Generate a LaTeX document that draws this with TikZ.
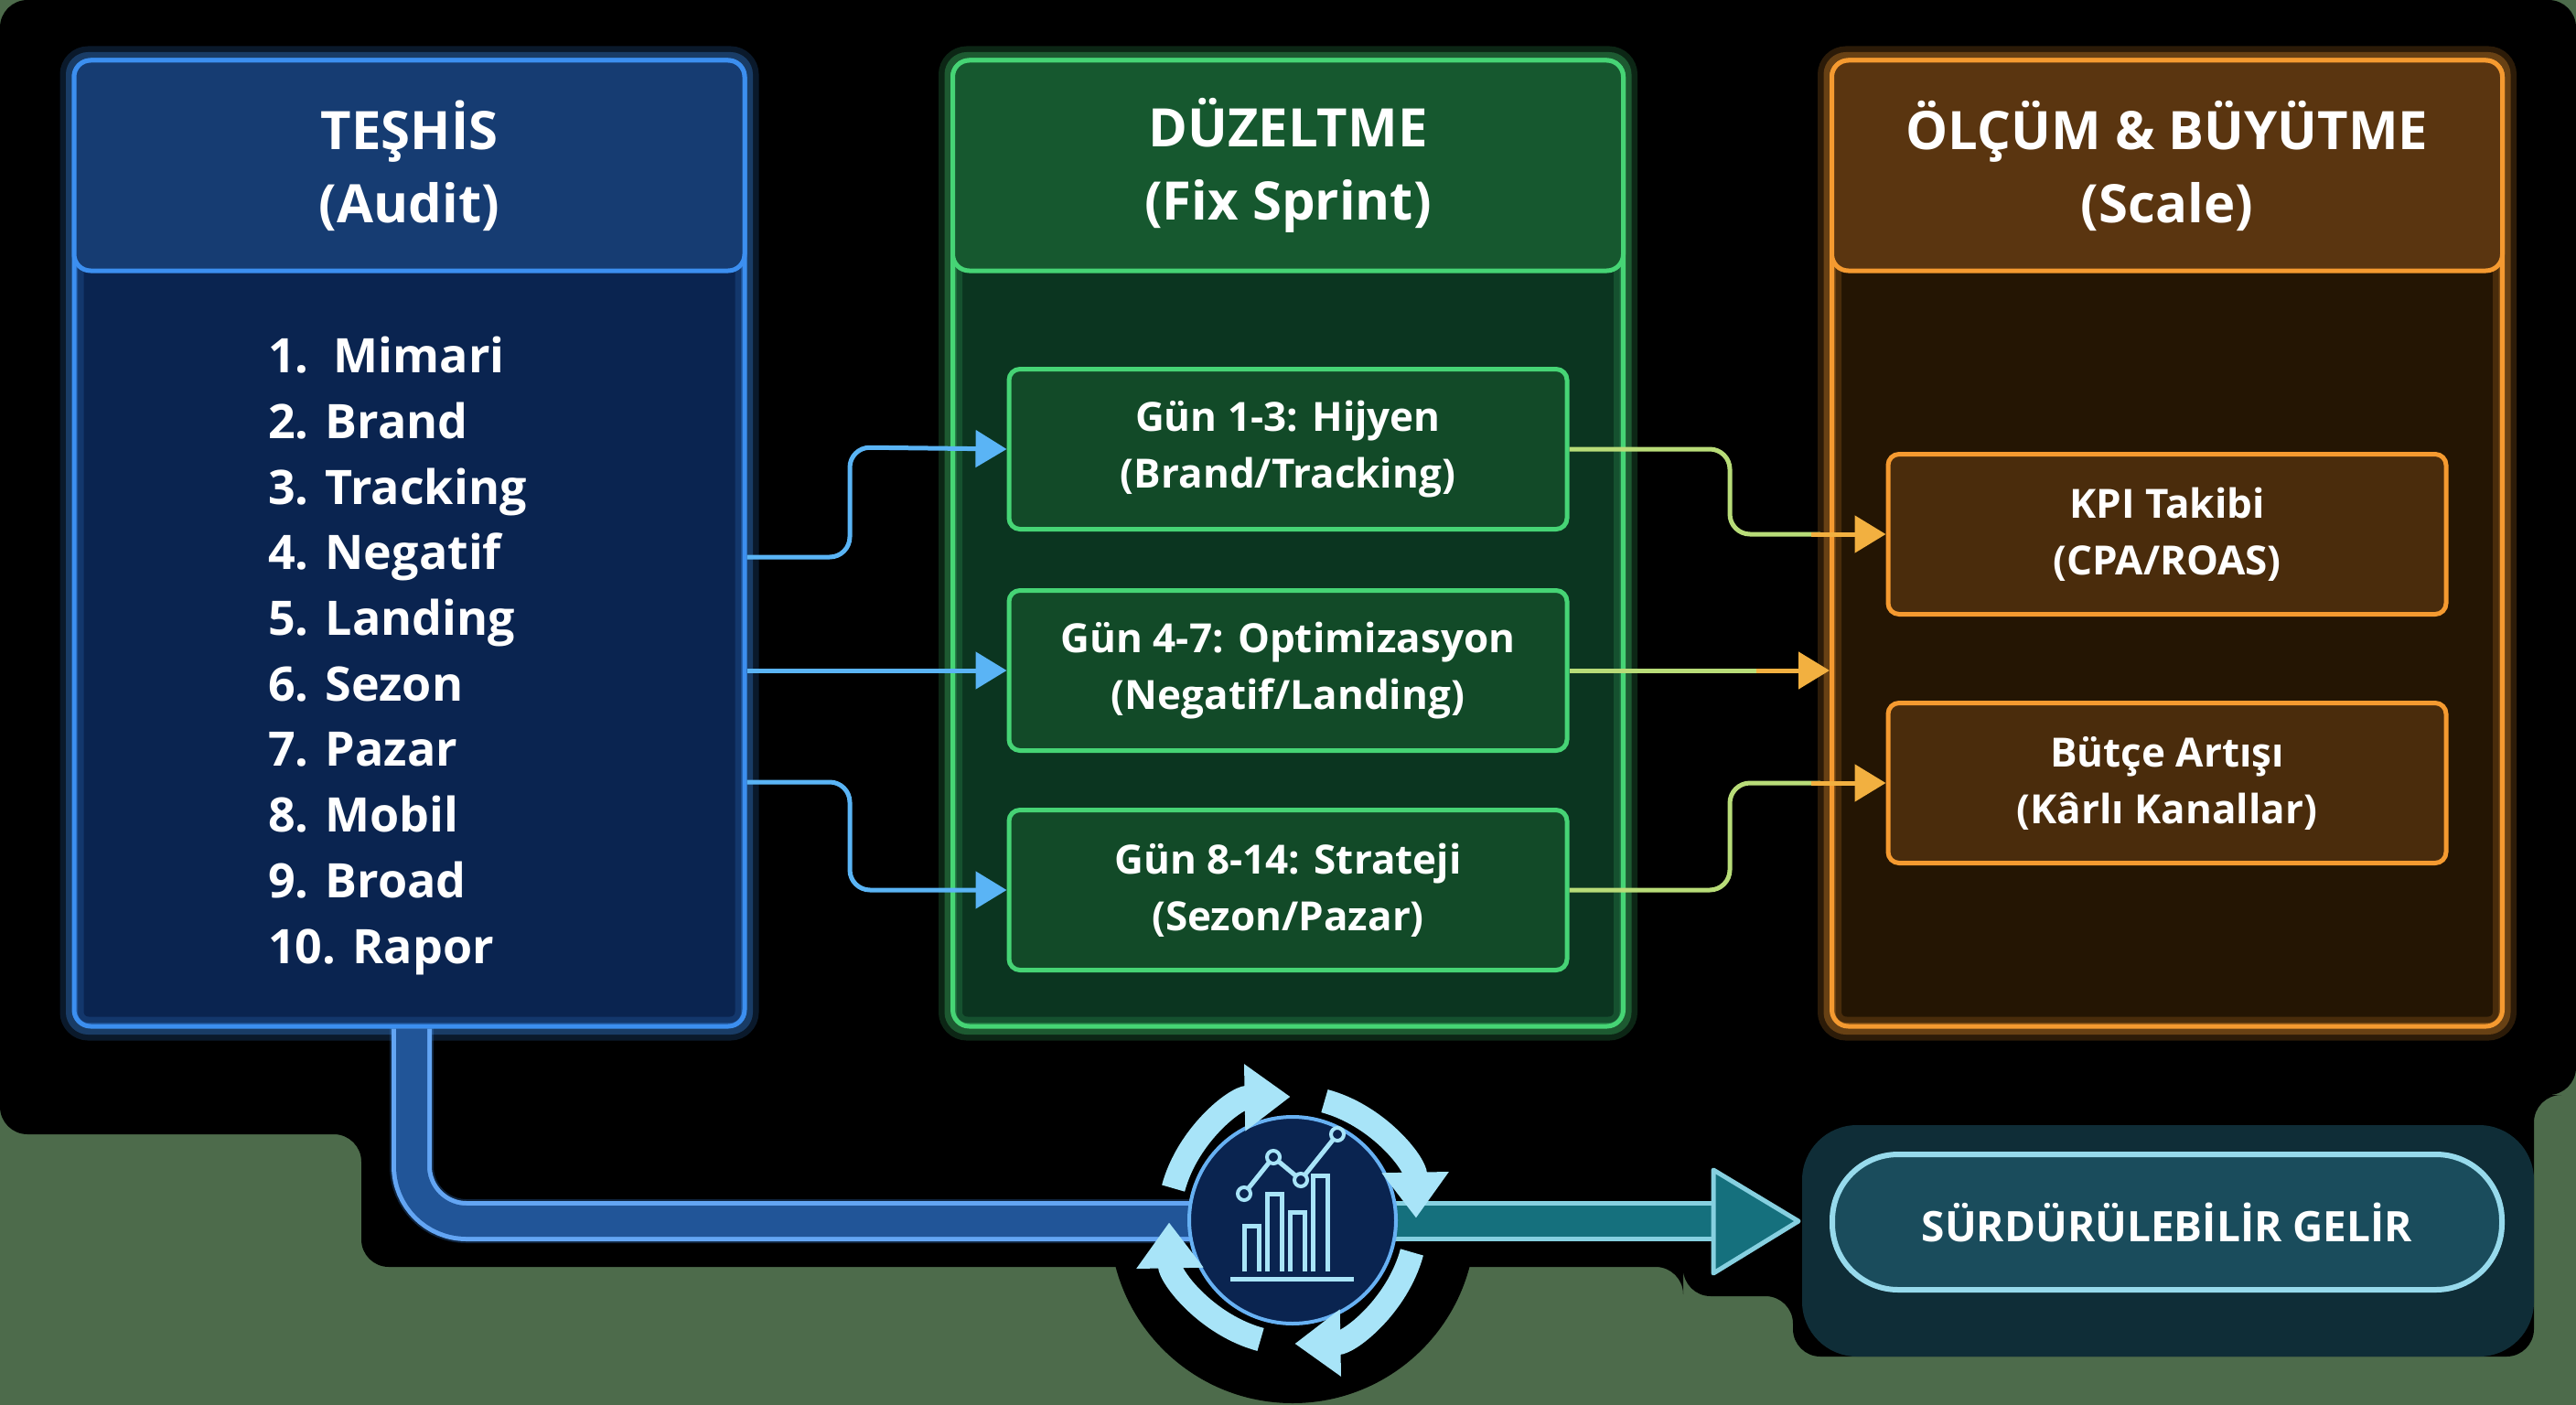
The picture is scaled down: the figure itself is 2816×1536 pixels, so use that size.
\documentclass[tikz,border=0pt]{standalone}
\usepackage{fontspec}
\setmainfont{Open Sans}
\usetikzlibrary{arrows.meta}
\definecolor{bgg}{HTML}{4D6B4B}
\definecolor{bB}{HTML}{3C8FF0}\definecolor{bF}{HTML}{0A2450}\definecolor{bH}{HTML}{163C72}
\definecolor{gB}{HTML}{46D475}\definecolor{gF}{HTML}{0B3520}\definecolor{gH}{HTML}{16582F}\definecolor{gI}{HTML}{124A28}
\definecolor{oB}{HTML}{F59A30}\definecolor{oF}{HTML}{241503}\definecolor{oH}{HTML}{5A3510}\definecolor{oI}{HTML}{4A2C0C}
\definecolor{aB}{HTML}{5AB4F5}\definecolor{aG}{HTML}{B8DC78}\definecolor{aO}{HTML}{F2B040}
\definecolor{cy}{HTML}{A8E4F8}\definecolor{tl}{HTML}{1A4C5C}
\tikzset{
 glow/.style={draw=#1,line width=26pt,opacity=0.18},
 glowb/.style={draw=#1,line width=13pt,opacity=0.3},
 box/.style={draw,line width=5pt,rounded corners=18pt,inner sep=0pt},
 ibox/.style={draw,line width=5pt,rounded corners=12pt,minimum width=610pt,minimum height=175pt,align=center,text=white,font=\bfseries\fontsize{44}{62}\selectfont},
 ttl/.style={text=white,align=center,font=\bfseries\fontsize{58}{80}\selectfont},
 ar/.style={line width=5pt,rounded corners=22pt},
 tip/.style={-{Triangle[length=34pt,width=40pt]}},
}
\begin{document}
\begin{tikzpicture}[x=1pt,y=-1pt]
\useasboundingbox (0,0) rectangle (2816,1536);
\fill[bgg] (0,0) rectangle (2816,1536);
\fill[black,rounded corners=30pt] (0,0) -- (2816,0) -- (2816,1197) -- (2770,1197) -- (2770,1483) -- (1960,1483) -- (1960,1417) -- (1840,1417) -- (1840,1385) -- (395,1385) -- (395,1240) -- (0,1240) -- cycle;
\fill[black] (1413,1334) circle (200);
% panels
\foreach \c/\n/\x in {b/bp/447.5,g/gp/1408,o/op/2369}{
  \node[box,draw=\c B,fill=\c F,minimum width=733pt,minimum height=1056pt] (\n) at (\x,594) {};
}
\foreach \n/\c in {bp/bB,gp/gB,op/oB}{
  \draw[glow=\c,rounded corners=18pt] (\n.north west) rectangle (\n.south east);
  \draw[glowb=\c,rounded corners=18pt] (\n.north west) rectangle (\n.south east);
}
\node[box,draw=bB,fill=bH,minimum width=733pt,minimum height=230pt] (bh) at (447.5,181) {};
\node[box,draw=gB,fill=gH,minimum width=733pt,minimum height=230pt] (gh) at (1408,181) {};
\node[box,draw=oB,fill=oH,minimum width=733pt,minimum height=230pt] (oh) at (2369,181) {};
\node[ttl] (bt) at (bh) {TEŞHİS\\(Audit)};
\node[ttl] (gt) at (gh) {DÜZELTME\\(Fix Sprint)};
\node[ttl] (ot) at (oh) {ÖLÇÜM \& BÜYÜTME\\(Scale)};
\node[anchor=north west,inner sep=0pt,align=left,text=white,font=\bfseries\fontsize{52}{71.7}\selectfont] (list) at (293,368)
 {1.\ \ Mimari\\2. Brand\\3. Tracking\\4. Negatif\\5. Landing\\6. Sezon\\7. Pazar\\8. Mobil\\9. Broad\\10. Rapor};
% inner boxes
\node[ibox,draw=gB,fill=gI] (g1) at (1408,491) {Gün 1-3: Hijyen\\(Brand/Tracking)};
\node[ibox,draw=gB,fill=gI] (g2) at (1408,733) {Gün 4-7: Optimizasyon\\(Negatif/Landing)};
\node[ibox,draw=gB,fill=gI] (g3) at (1408,973) {Gün 8-14: Strateji\\(Sezon/Pazar)};
\node[ibox,draw=oB,fill=oI] (o1) at (2369,584) {KPI Takibi\\(CPA/ROAS)};
\node[ibox,draw=oB,fill=oI] (o2) at (2369,856) {Bütçe Artışı\\(Kârlı Kanallar)};
% arrows blue
\draw[ar,aB,tip] (bp.east |- 0,609) -- (929,609) -- (929,489) -- (g1.west);
\draw[ar,aB,tip] (bp.east |- g2) -- (g2.west);
\draw[ar,aB,tip] (bp.east |- 0,855) -- (929,855) -- (929,973) -- (g3.west);
% arrows green->orange
\draw[ar,aG] (g1.east) -- (1891,491) -- (1891,584) -- (1990,584);
\draw[ar,aO,tip] (1980,584) -- (o1.west);
\draw[ar,aG] (g2.east) -- (1930,733);
\draw[ar,aO,tip] (1920,733) -- (op.west |- g2);
\draw[ar,aG] (g3.east) -- (1891,973) -- (1891,856) -- (1990,856);
\draw[ar,aO,tip] (1980,856) -- (o2.west);
% bottom band
\draw[bB,line width=48pt,opacity=0.25,rounded corners=60pt] (450,1122) -- (450,1335) -- (1300,1335);
\draw[bB!80!white,line width=5pt,double=bH!70!bB,double distance=34pt,rounded corners=60pt] (bp.south -| 450,0) -- (450,1335) -- (1300,1335);
\coordinate (tipb) at (1873,1335);
\draw[cy!80!teal,line width=5pt,double=tl!80!cyan,double distance=34pt] (1520,1335) -- (tipb);
\filldraw[draw=cy!80!teal,fill=tl!80!cyan,line width=5pt,line join=round] (1873,1279) -- (1966,1335) -- (1873,1392) -- cycle;
% cycle
\node[circle,fill=bF,draw=cy!40!bB,line width=4pt,minimum size=226pt] (cyc) at (1413,1334) {};
\foreach \a in {195,285,15,105}{
  \draw[cy,line width=26pt,-{Triangle[length=50pt,width=70pt]}] (cyc.center) ++(\a:135) arc[start angle=\a,delta angle=74,radius=135];
}
\draw[cy,line width=5pt] (1345,1398) -- (1480,1398);
\foreach \x/\h in {1360/50,1385/85,1410/65,1435/105}{
  \draw[cy,line width=5pt] (\x,1390) -- (\x,1390-\h) -- (\x+16,1390-\h) -- (\x+16,1390);
}
\draw[cy,line width=5pt] (1360,1305) -- (1392,1265) -- (1422,1290) -- (1462,1240);
\foreach \p in {(1360,1305),(1392,1265),(1422,1290),(1462,1240)} \draw[cy,line width=4pt,fill=bF] \p circle (7);
% pill
\fill[tl,opacity=0.6,rounded corners=60pt] (1970,1230) rectangle (2770,1483);
\node[draw=cy!90!teal,fill=tl,line width=6pt,rounded corners=72pt,minimum width=732pt,minimum height=148pt,text=white,font=\bfseries\fontsize{46}{56}\selectfont] (gelir) at (2369,1336) {SÜRDÜRÜLEBİLİR GELİR};
\end{tikzpicture}
\end{document}
